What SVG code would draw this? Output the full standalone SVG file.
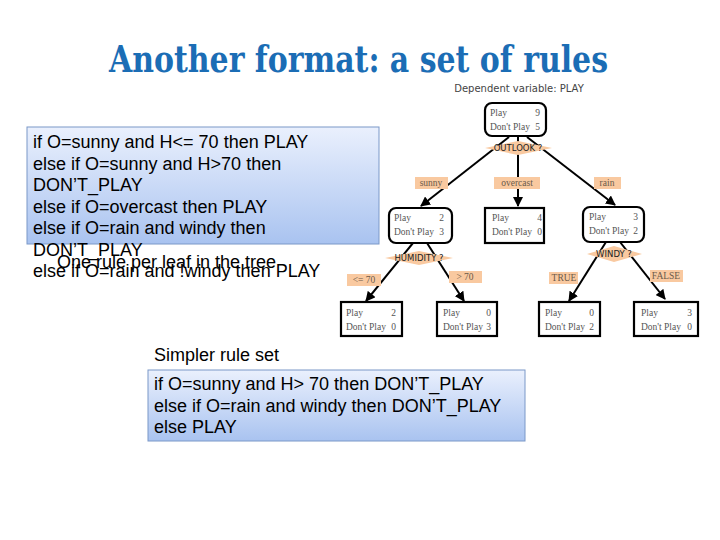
<svg xmlns="http://www.w3.org/2000/svg" width="720" height="540" viewBox="0 0 720 540">
<defs>
<linearGradient id="blue" x1="0" y1="0" x2="0" y2="1">
<stop offset="0" stop-color="#eaf0fd"/>
<stop offset="1" stop-color="#a9c3f0"/>
</linearGradient>
<marker id="arr" viewBox="0 0 10 10" refX="9" refY="5" markerWidth="5" markerHeight="5" orient="auto" markerUnits="strokeWidth">
<path d="M0,0 L10,5 L0,10 z" fill="#000"/>
</marker>
<style>
.title{font-family:"DejaVu Serif",serif;font-weight:bold;font-size:37px;fill:#1b6db5}
.rule{font-family:"Liberation Sans",Arial,sans-serif;font-size:18px;fill:#000}
.rbox{fill:url(#blue);stroke:#7b98c8;stroke-width:1}
.node{fill:#fff;stroke:#000;stroke-width:2.2}
.nt{font-family:"Liberation Serif",serif;font-size:9.5px;fill:#555}
.lab{fill:#f9c9a0}
.lt{font-family:"Liberation Serif",serif;font-size:9.5px;fill:#6b5a4a;text-anchor:middle}
.dt{font-family:"DejaVu Sans",sans-serif;font-size:8.5px;fill:#222;text-anchor:middle}
.dia{fill:#f9c9a0}
.edge{stroke:#000;stroke-width:2;fill:none;marker-end:url(#arr)}
.sub{font-family:"DejaVu Sans",sans-serif;font-size:10px;fill:#444;text-anchor:middle}
</style>
</defs>
<rect width="720" height="540" fill="#fff"/>
<text class="title" x="109" y="72" textLength="499" lengthAdjust="spacingAndGlyphs">Another format: a set of rules</text>

<text class="sub" x="519" y="92">Dependent variable: PLAY</text>

<g id="connectors">
<line class="edge" x1="509" y1="137" x2="421" y2="206"/>
<line class="edge" x1="518" y1="137" x2="518" y2="206"/>
<line class="edge" x1="527" y1="137" x2="615" y2="205"/>
<line class="edge" x1="413" y1="243" x2="366" y2="301"/>
<line class="edge" x1="427" y1="243" x2="464" y2="301"/>
<line class="edge" x1="606" y1="242" x2="569" y2="301"/>
<line class="edge" x1="620" y1="242" x2="665" y2="299"/>
</g>

<g id="root">
<rect class="node" x="485" y="103" width="61" height="33" rx="7"/>
<text class="nt" x="490" y="116">Play</text><text class="nt" x="540" y="116" text-anchor="end">9</text>
<text class="nt" x="490" y="130">Don't Play</text><text class="nt" x="540" y="130" text-anchor="end">5</text>
</g>
<g id="outlook">
<path class="dia" d="M485,148 L518,141 L552,148 L518,155 Z"/>
<text class="dt" x="518" y="151">OUTLOOK ?</text>
</g>
<g id="lab-sunny"><rect class="lab" x="415" y="177" width="33" height="12"/><text class="lt" x="431" y="186">sunny</text></g>
<g id="lab-overcast"><rect class="lab" x="494" y="177" width="46" height="12"/><text class="lt" x="517" y="186">overcast</text></g>
<g id="lab-rain"><rect class="lab" x="594" y="177" width="27" height="12"/><text class="lt" x="607" y="186">rain</text></g>

<g id="sunny">
<rect class="node" x="389" y="208" width="63" height="35" rx="7"/>
<text class="nt" x="394" y="221">Play</text><text class="nt" x="444" y="221" text-anchor="end">2</text>
<text class="nt" x="394" y="235">Don't Play</text><text class="nt" x="444" y="235" text-anchor="end">3</text>
</g>
<g id="overcast">
<rect class="node" x="485" y="208" width="59" height="35"/>
<text class="nt" x="492" y="221">Play</text><text class="nt" x="542" y="221" text-anchor="end">4</text>
<text class="nt" x="492" y="235">Don't Play</text><text class="nt" x="542" y="235" text-anchor="end">0</text>
</g>
<g id="rain">
<rect class="node" x="583" y="207" width="61" height="35" rx="7"/>
<text class="nt" x="589" y="220">Play</text><text class="nt" x="638" y="220" text-anchor="end">3</text>
<text class="nt" x="589" y="234">Don't Play</text><text class="nt" x="638" y="234" text-anchor="end">2</text>
</g>

<g id="humidity">
<path class="dia" d="M385,258 L419,251 L453,258 L419,265 Z"/>
<text class="dt" x="419" y="261">HUMIDITY ?</text>
</g>
<g id="windy">
<path class="dia" d="M587,254 L614,246 L642,254 L614,262 Z"/>
<text class="dt" x="614" y="257">WINDY ?</text>
</g>
<g id="lab-le70"><rect class="lab" x="347" y="274" width="34" height="12"/><text class="lt" x="364" y="283">&lt;= 70</text></g>
<g id="lab-gt70"><rect class="lab" x="449" y="271" width="33" height="12"/><text class="lt" x="465" y="280">&gt; 70</text></g>
<g id="lab-true"><rect class="lab" x="549" y="272" width="29" height="12"/><text class="lt" x="564" y="281">TRUE</text></g>
<g id="lab-false"><rect class="lab" x="650" y="270" width="33" height="12"/><text class="lt" x="666" y="279">FALSE</text></g>

<g id="leaf1">
<rect class="node" x="341" y="302" width="61" height="34"/>
<text class="nt" x="346" y="316">Play</text><text class="nt" x="396" y="316" text-anchor="end">2</text>
<text class="nt" x="346" y="330">Don't Play</text><text class="nt" x="396" y="330" text-anchor="end">0</text>
</g>
<g id="leaf2">
<rect class="node" x="437" y="302" width="60" height="34"/>
<text class="nt" x="443" y="316">Play</text><text class="nt" x="491" y="316" text-anchor="end">0</text>
<text class="nt" x="443" y="330">Don't Play</text><text class="nt" x="491" y="330" text-anchor="end">3</text>
</g>
<g id="leaf3">
<rect class="node" x="539" y="302" width="61" height="34"/>
<text class="nt" x="545" y="316">Play</text><text class="nt" x="594" y="316" text-anchor="end">0</text>
<text class="nt" x="545" y="330">Don't Play</text><text class="nt" x="594" y="330" text-anchor="end">2</text>
</g>
<g id="leaf4">
<rect class="node" x="634" y="302" width="64" height="34"/>
<text class="nt" x="641" y="316">Play</text><text class="nt" x="692" y="316" text-anchor="end">3</text>
<text class="nt" x="641" y="330">Don't Play</text><text class="nt" x="692" y="330" text-anchor="end">0</text>
</g>

<g id="rules1">
<rect class="rbox" x="27" y="127" width="352" height="117"/>
<text class="rule" x="33" y="148">if O=sunny and H&lt;= 70 then PLAY</text>
<text class="rule" x="33" y="170">else if O=sunny and H&gt;70 then</text>
<text class="rule" x="33" y="191">DON’T_PLAY</text>
<text class="rule" x="33" y="213">else if O=overcast then PLAY</text>
<text class="rule" x="33" y="234">else if O=rain and windy then</text>
<text class="rule" x="33" y="256">DON’T_PLAY</text>
<text class="rule" x="33" y="277">else if O=rain and !windy then PLAY</text>
<text class="rule" x="57" y="268">One rule per leaf in the tree</text>
</g>

<g id="simpler">
<text class="rule" x="154" y="361">Simpler rule set</text>
<rect class="rbox" x="148" y="370" width="377" height="71"/>
<text class="rule" x="154" y="390">if O=sunny and H&gt; 70 then DON’T_PLAY</text>
<text class="rule" x="154" y="412">else if O=rain and windy then DON’T_PLAY</text>
<text class="rule" x="154" y="433">else PLAY</text>
</g>
</svg>
